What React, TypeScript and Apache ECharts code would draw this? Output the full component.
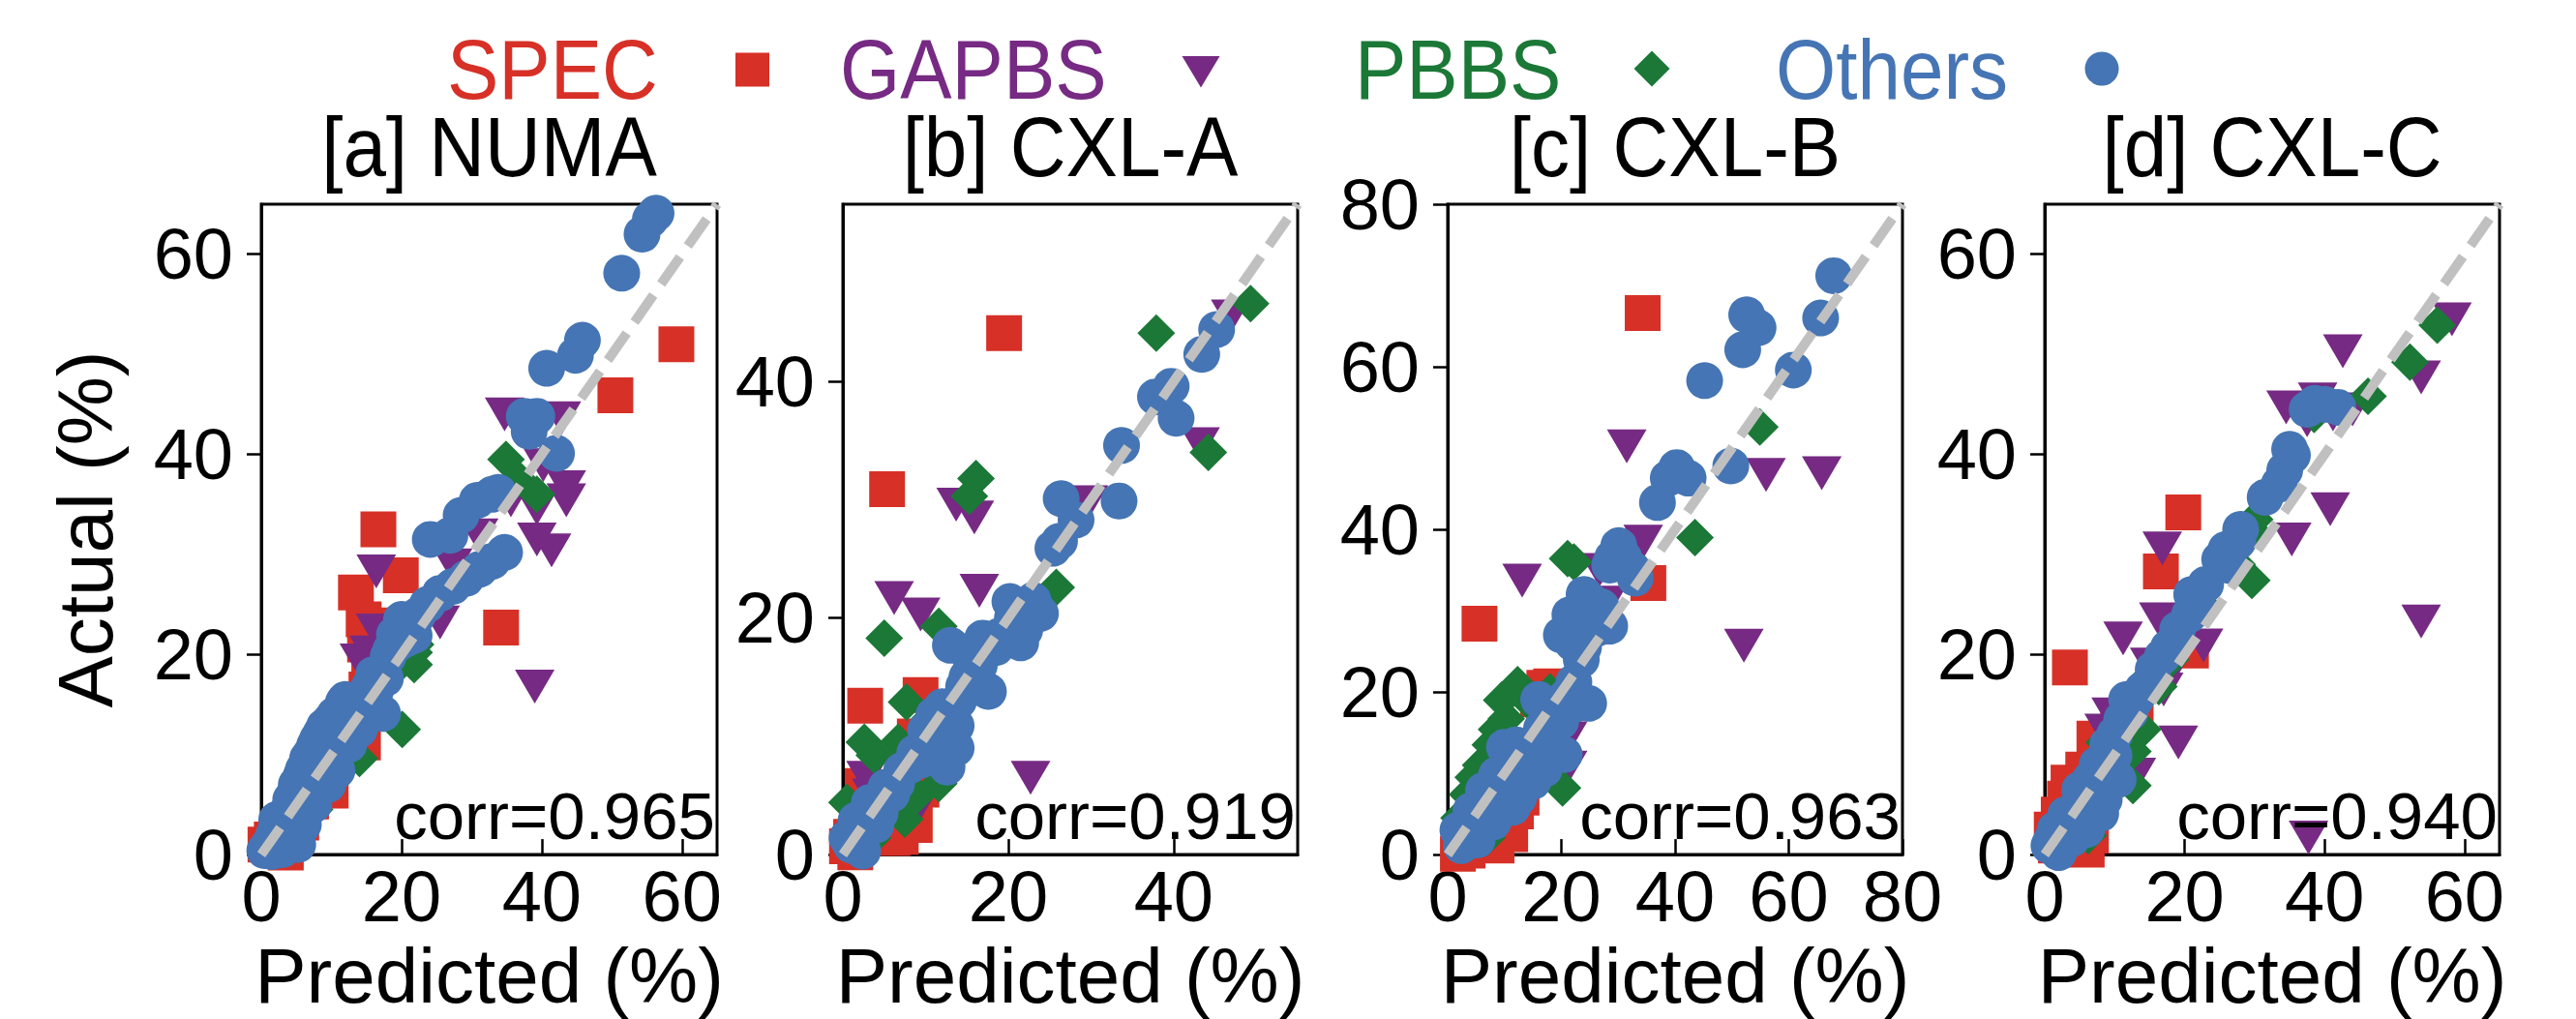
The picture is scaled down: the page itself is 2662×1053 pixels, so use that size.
import React, { useEffect, useRef } from "react";
import * as echarts from "echarts";

// ---------- data: [predicted %, actual %] ----------
const numaSpec = [[59.2,51.0],[50.5,45.9],[34.2,22.7],[16.7,32.5],[13.5,26.2],[19.9,27.9],[16.1,22.9],[15.4,19.0],[14.5,11.2],[9.9,6.4],[5.7,3.2],[2.5,2.3],[0.6,1.0],[7.1,5.3],[14.8,21.0],[3.5,0.2],[14.6,23.5],[15.0,16.5],[8.5,8.0],[1.5,1.5],[5.0,4.5]];
const numaGapbs = [[39.0,16.8],[16.4,28.3],[43.5,35.4],[43.5,36.7],[41.4,30.4],[39.3,31.5],[39.3,34.6],[34.7,44.0],[42.8,43.6],[40.2,38.9],[35.6,35.4],[27.3,28.9],[31.0,31.9],[25.5,23.2],[16.3,22.4],[14.0,19.4],[15.4,20.2]];
const numaPbbs = [[34.9,39.5],[39.3,36.0],[36.6,37.6],[20.1,12.5],[21.8,19.0],[13.5,12.1],[14.0,9.6],[11.7,10.9],[7.6,4.5],[7.1,5.8],[21.8,20.2],[4.0,3.0],[6.0,7.0],[9.0,8.0],[12.0,10.0],[16.0,14.5],[19.0,18.5],[22.0,21.0]];
const numaOthers = [[56.3,64.1],[55.5,63.5],[54.3,62.0],[51.4,58.1],[45.8,51.4],[44.8,49.9],[40.7,48.6],[37.5,43.8],[39.3,43.8],[38.2,42.3],[42.1,40.1],[24.1,31.5],[26.9,31.9],[28.5,33.9],[30.8,35.4],[32.9,36.0],[33.8,36.2],[34.7,30.2],[32.9,29.3],[31.1,28.5],[29.2,27.6],[27.3,26.8],[25.5,26.1],[23.7,25.0],[22.3,23.9],[21.4,22.8],[19.5,21.1],[18.1,19.8],[17.2,18.1],[16.3,16.4],[11.7,15.2],[9.9,13.4],[8.5,12.1],[7.6,10.9],[6.6,9.6],[5.7,7.9],[4.8,6.2],[3.9,4.5],[2.9,2.8],[1.1,1.0],[5.2,1.0],[8.5,9.2],[10.8,8.4],[16.3,14.2],[17.7,17.6],[21.8,21.9],[1.5,0.3],[3.0,0.5],[12.5,11.0],[14.0,12.5],[20.0,23.5],[15.4,16.8],[17.3,14.1],[1.8,2.0],[2.2,3.5],[3.4,3.8],[4.2,5.5],[5.0,7.0],[6.0,8.5],[7.0,10.0],[8.0,11.5],[9.0,12.8],[10.5,14.0],[11.0,13.0],[12.0,15.5],[13.0,14.5],[14.5,13.5],[15.0,15.0],[16.0,18.0],[18.5,20.5],[19.0,22.0],[20.5,21.5],[6.0,3.0],[7.5,5.0],[9.5,7.0],[4.0,1.5],[2.0,1.2],[0.5,0.4]];

const cxlASpec = [[19.5,44.1],[5.35,30.9],[2.7,12.6],[9.4,13.5],[8.7,2.5],[6.0,1.4],[2.4,5.8],[0.5,0.7],[8.7,10.0],[1.5,0.2],[1.0,1.5],[3.5,3.0],[4.5,5.0],[9.5,5.5],[7.0,1.5]];
const cxlAGapbs = [[22.7,6.5],[6.2,21.7],[9.4,20.3],[16.5,22.3],[13.7,29.6],[15.9,28.5],[29.7,29.8],[43.2,34.7],[46.9,45.5],[9.4,4.4],[2.8,6.5],[3.5,5.0],[8.0,3.5]];
const cxlAPbbs = [[49.3,46.6],[37.9,44.1],[44.2,34.0],[16.1,31.8],[15.3,30.3],[25.8,22.6],[5.0,18.3],[11.6,19.3],[7.7,12.9],[2.6,9.5],[3.8,8.4],[6.7,9.5],[11.6,6.0],[0.5,4.4],[7.5,3.0],[3.6,1.4],[1.5,2.5],[3.0,4.0],[9.0,5.0],[10.5,11.5],[11.5,7.0]];
const cxlAOthers = [[45.2,44.4],[43.4,42.3],[39.7,39.6],[37.8,38.7],[40.3,36.9],[33.7,34.6],[33.4,29.9],[26.4,30.1],[28.2,28.3],[25.4,25.9],[26.2,26.5],[20.2,21.4],[23.9,20.4],[21.5,17.9],[13.0,17.7],[16.9,18.3],[14.6,14.2],[17.6,13.8],[11.0,11.8],[13.7,10.9],[13.7,9.0],[12.6,7.4],[8.7,8.6],[7.1,7.1],[5.2,5.7],[3.2,4.4],[1.6,2.9],[0.5,1.4],[2.4,0.3],[5.9,5.1],[18.5,17.5],[15.5,16.5],[10.0,10.5],[20.5,20.0],[4.0,2.5],[1.0,0.8],[2.0,1.8],[3.0,2.5],[4.5,3.5],[6.5,6.0],[8.0,7.5],[9.5,8.0],[10.5,9.5],[11.5,10.5],[12.0,12.5],[14.0,13.0],[15.0,15.0],[16.5,16.0],[19.0,18.5],[22.0,19.0],[23.0,21.5]];

const cxlBSpec = [[34.3,66.6],[5.6,28.4],[35.3,33.4],[18.2,20.7],[12.0,5.3],[8.6,1.1],[1.8,0.1],[15.9,19.1],[10.5,3.0],[13.0,7.0],[11.0,2.5],[3.5,0.5],[17.0,20.5]];
const cxlBGapbs = [[31.5,50.2],[56.0,46.7],[65.8,46.9],[52.1,25.7],[13.1,33.7],[34.4,38.5],[26.7,35.0],[21.1,14.3],[21.1,10.7],[14.3,10.2],[28.0,31.0],[17.5,12.5],[20.0,16.0],[10.5,5.0]];
const cxlBPbbs = [[54.9,52.6],[43.5,39.0],[21.1,36.4],[22.2,36.0],[12.3,20.9],[10.3,16.7],[20.2,8.2],[5.8,11.0],[8.6,15.4],[3.5,7.4],[6.9,2.1],[18.0,20.0],[2.0,4.5],[4.5,9.5],[7.5,13.5],[14.0,19.0],[9.5,19.0]];
const cxlBOthers = [[67.9,71.2],[65.6,66.0],[52.6,66.4],[54.6,64.8],[51.9,62.1],[60.8,59.6],[45.2,58.3],[49.8,47.8],[40.3,47.6],[42.3,46.3],[38.8,46.3],[36.9,43.3],[30.1,38.0],[28.5,35.6],[32.5,35.1],[24.5,30.8],[22.2,28.7],[21.1,27.4],[26.2,27.8],[28.5,28.1],[23.9,25.5],[22.2,21.2],[24.8,18.6],[16.0,19.1],[19.9,16.4],[10.0,13.2],[20.5,12.3],[14.3,10.6],[8.6,9.8],[13.1,8.3],[6.3,7.9],[11.4,5.8],[4.1,5.4],[1.8,3.0],[2.4,1.1],[5.2,1.8],[17.0,15.0],[12.0,13.5],[23.0,30.0],[25.5,31.0],[3.0,2.5],[4.5,4.0],[6.0,5.5],[7.5,7.0],[9.0,8.0],[10.5,9.5],[12.0,11.0],[13.5,12.5],[15.0,13.5],[16.5,15.5],[18.0,17.0],[19.5,18.0],[21.0,19.5],[22.5,18.5],[8.0,4.0],[10.0,6.5],[12.5,7.0],[15.0,9.0],[17.0,10.5],[20.0,27.0],[21.5,29.5],[23.5,27.5],[22.0,26.0],[25.0,29.0],[27.0,30.5],[24.0,32.0],[29.0,36.5],[31.0,36.5],[33.0,34.0],[23.5,24.0]];

const cxlCSpec = [[19.8,34.2],[16.6,28.3],[3.6,18.7],[10.5,12.7],[20.9,20.4],[3.4,7.2],[2.9,5.6],[6.6,1.9],[1.6,0.9],[7.1,11.6],[1.0,2.5],[2.0,4.0],[4.5,6.0],[5.5,8.5],[1.5,1.5],[8.0,8.0],[6.0,0.5],[13.0,13.5],[11.5,12.0]];
const cxlCGapbs = [[37.7,1.7],[53.8,23.3],[42.6,50.3],[53.8,47.7],[58.2,53.5],[34.5,44.7],[37.5,43.4],[41.2,44.0],[40.8,34.5],[35.3,31.5],[16.8,30.6],[16.3,23.5],[11.2,21.6],[22.7,20.9],[19.1,11.2],[19.5,23.3],[17.7,18.0],[8.5,12.4],[13.1,8.0],[9.5,14.0],[12.0,11.0],[15.0,19.0],[17.0,16.5],[39.0,45.5],[44.0,44.5]];
const cxlCPbbs = [[56.1,52.9],[52.2,49.2],[46.2,45.8],[29.6,32.4],[29.6,27.4],[16.3,16.8],[12.6,10.3],[12.6,6.9],[8.5,11.2],[6.2,1.9],[14.5,17.5],[6.5,5.0],[10.0,9.0],[14.0,12.5],[11.5,11.5],[18.0,19.5],[22.5,25.0],[27.5,29.0],[30.0,33.5],[38.5,44.0]];
const cxlCOthers = [[38.6,45.1],[41.9,44.7],[35.4,39.9],[34.3,38.4],[31.5,35.7],[27.6,31.3],[26.4,28.9],[25.9,30.5],[21.8,25.5],[20.7,24.0],[17.7,20.7],[16.8,19.8],[11.7,15.5],[12.2,14.2],[9.9,9.9],[7.1,8.0],[8.0,4.1],[4.8,5.0],[2.5,2.9],[0.6,0.9],[3.9,1.6],[2.0,0.2],[6.0,6.5],[9.0,11.0],[5.5,3.0],[1.0,1.5],[1.5,2.5],[3.0,4.0],[4.0,3.0],[5.0,6.5],[6.5,7.5],[7.5,9.0],[8.5,9.5],[10.0,12.0],[11.0,13.5],[13.0,15.5],[14.0,16.5],[15.5,18.5],[19.0,22.5],[21.0,26.0],[23.0,27.0],[25.0,29.5],[28.0,32.5],[33.5,37.0],[35.0,40.5],[37.5,44.5],[40.0,45.0],[6.0,2.5],[8.5,5.5],[10.5,7.5]];

const panelTitles = ["[a] NUMA", "[b] CXL-A", "[c] CXL-B", "[d] CXL-C"];
const corrLabels = ["corr=0.965", "corr=0.919", "corr=0.963", "corr=0.940"];
const axisMax = [65, 55, 80, 65];
const tickValues = [[0, 20, 40, 60], [0, 20, 40], [0, 20, 40, 60, 80], [0, 20, 40, 60]];
const groupNames = ["SPEC", "GAPBS", "PBBS", "Others"];
const panelData = [
  [numaSpec, numaGapbs, numaPbbs, numaOthers],
  [cxlASpec, cxlAGapbs, cxlAPbbs, cxlAOthers],
  [cxlBSpec, cxlBGapbs, cxlBPbbs, cxlBOthers],
  [cxlCSpec, cxlCGapbs, cxlCPbbs, cxlCOthers],
];

// ---------- styles ----------
const FONT = '"Liberation Sans", Arial, Helvetica, sans-serif';
const COLORS = ["#d73027", "#762a83", "#1b7837", "#4575b4"];
const SYMBOLS: any[] = [
  { symbol: "rect", symbolSize: [37, 37], symbolRotate: 0 },
  { symbol: "triangle", symbolSize: [41, 35], symbolRotate: 180 },
  { symbol: "diamond", symbolSize: [39, 39], symbolRotate: 0 },
  { symbol: "circle", symbolSize: 38, symbolRotate: 0 },
];
const gridLefts = [270, 871, 1496, 2113];
const gridWidths = [471, 470, 470, 470];
const GRID_TOP = 211;
const GRID_H = 682;

export default function App() {
  const ref = useRef<HTMLDivElement>(null);
  useEffect(() => {
    if (!ref.current) return;
    const chart = echarts.init(ref.current, undefined, { renderer: "svg" });

    const grid: any[] = [];
    const xAxis: any[] = [];
    const yAxis: any[] = [];
    const series: any[] = [];
    const graphic: any[] = [];

    for (let i = 0; i < 4; i++) {
      grid.push({
        left: gridLefts[i], top: GRID_TOP, width: gridWidths[i], height: GRID_H,
        show: true, borderColor: "#000", borderWidth: 3, backgroundColor: "rgba(0,0,0,0)",
      });
      xAxis.push({
        gridIndex: i, type: "value", min: 0, max: axisMax[i],
        axisLine: { show: true, onZero: false, lineStyle: { color: "#000", width: 3 } },
        axisTick: { show: true, inside: true, length: 16, customValues: tickValues[i], lineStyle: { color: "#000", width: 2.5 } },
        axisLabel: { customValues: tickValues[i], fontSize: 74, color: "#000", fontFamily: FONT, margin: 6 },
        splitLine: { show: false },
        name: "Predicted (%)", nameLocation: "middle", nameGap: 84,
        nameTextStyle: { fontSize: 80, color: "#000", fontFamily: FONT },
      });
      yAxis.push({
        gridIndex: i, type: "value", min: 0, max: axisMax[i],
        axisLine: { show: true, onZero: false, lineStyle: { color: "#000", width: 3 } },
        axisTick: { show: true, inside: false, length: 15, customValues: tickValues[i], lineStyle: { color: "#000", width: 2.5 } },
        axisLabel: { customValues: tickValues[i], fontSize: 74, color: "#000", fontFamily: FONT, margin: 29 },
        splitLine: { show: false },
        name: i === 0 ? "Actual (%)" : "", nameLocation: "middle", nameGap: 142,
        nameTextStyle: { fontSize: 80, color: "#000", fontFamily: FONT },
      });
      for (let g = 0; g < 4; g++) {
        series.push({
          type: "scatter", name: groupNames[g], xAxisIndex: i, yAxisIndex: i,
          data: panelData[i][g], clip: false,
          symbol: SYMBOLS[g].symbol, symbolSize: SYMBOLS[g].symbolSize, symbolRotate: SYMBOLS[g].symbolRotate,
          itemStyle: { color: COLORS[g], opacity: 1 },
          silent: true,
        });
      }
      series.push({
        type: "line", xAxisIndex: i, yAxisIndex: i,
        data: [[0, 0], [axisMax[i], axisMax[i]]],
        symbol: "none", showSymbol: false, silent: true, clip: false,
        lineStyle: { color: "#c0c0c0", width: 10, type: [34, 14] },
        z: 3,
      });
      const cx = gridLefts[i] + gridWidths[i] / 2;
      graphic.push({
        type: "text", x: cx, y: 152, scaleY: 1.08, z: 100,
        style: { text: panelTitles[i], fontSize: 80, fontFamily: FONT, fill: "#000", align: "center", verticalAlign: "middle" },
      });
      graphic.push({
        type: "text", x: gridLefts[i] + gridWidths[i] - 2, y: 843, z: 100,
        style: { text: corrLabels[i], fontSize: 69, fontFamily: FONT, fill: "#000", align: "right", verticalAlign: "middle" },
      });
    }

    // legend (text followed by marker)
    const legendTextX = [462, 868, 1400, 1835];
    for (let g = 0; g < 4; g++) {
      graphic.push({
        type: "text", x: legendTextX[g], y: 72, scaleY: 1.08, z: 100,
        style: { text: groupNames[g], fontSize: 80, fontFamily: FONT, fill: COLORS[g], align: "left", verticalAlign: "middle" },
      });
    }
    graphic.push({ type: "rect", z: 100, shape: { x: 760, y: 54.5, width: 35, height: 35 }, style: { fill: COLORS[0] } });
    graphic.push({ type: "polygon", z: 100, shape: { points: [[1221.5, 58], [1260.5, 58], [1241, 90.5]] }, style: { fill: COLORS[1] } });
    graphic.push({ type: "polygon", z: 100, shape: { points: [[1707, 52.5], [1725.5, 71], [1707, 89.5], [1688.5, 71]] }, style: { fill: COLORS[2] } });
    graphic.push({ type: "circle", z: 100, shape: { cx: 2172, cy: 71, r: 17.5 }, style: { fill: COLORS[3] } });

    chart.setOption({
      animation: false,
      backgroundColor: "#fff",
      grid, xAxis, yAxis, series, graphic,
    });
    return () => chart.dispose();
  }, []);
  return (
    <div
      ref={ref}
      style={{ position: "fixed", left: 0, top: 0, width: 2662, height: 1053, background: "#fff" }}
    />
  );
}
